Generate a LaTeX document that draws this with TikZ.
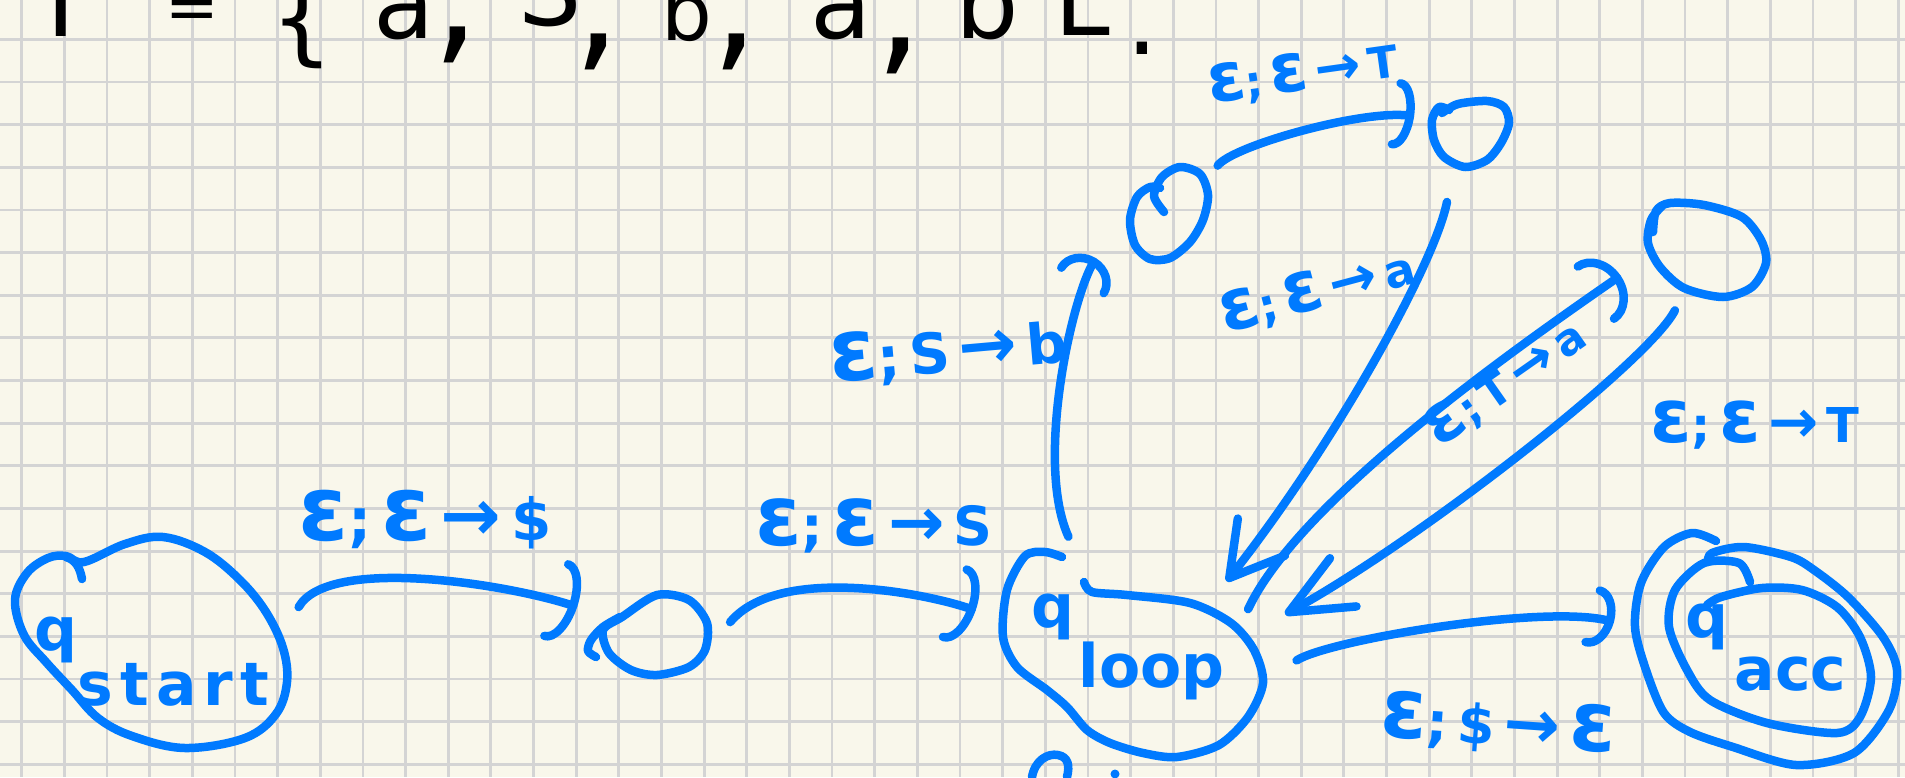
\documentclass[tikz,border=0pt]{standalone}
\usepackage{fontspec}
\usepackage{graphicx}
\setmainfont{DejaVu Sans}
\usetikzlibrary{arrows.meta,shapes.geometric}
\definecolor{pen}{RGB}{0,122,255}
\definecolor{paper}{RGB}{249,247,235}
\definecolor{gridc}{RGB}{212,212,212}
\newcommand\ep{\scalebox{1.55}{ε}}
\newcommand\arw{\scalebox{1.25}{→}}
\newcommand\stlabel[4]{\makebox[0pt]{\smash{\raisebox{#3}{#1\raisebox{#4}{#2}}}}}
\tikzset{
  ink/.style={draw=pen, line width=8.5pt, line cap=round, line join=round},
  gridline/.style={draw=gridc, line width=2.8pt},
  state/.style={ellipse, draw=none, inner sep=0pt, outer sep=0pt, text=pen, font=\fontsize{60}{60}\selectfont\bfseries},
  arcb/.style 2 args={-{Arc Barb[length=#1,width=#2,round]}},
  barb/.style 2 args={-{Straight Barb[length=#1,width=#2,round]}},
  lbl/.style={text=pen, inner sep=0pt, anchor=base, font=\fontsize{#1}{#1}\selectfont\bfseries},
  blk/.style={text=black, inner sep=0pt, anchor=base, font=\fontsize{#1}{#1}\selectfont},
}
\begin{document}
\begin{tikzpicture}[x=1pt,y=-1pt]
\useasboundingbox (0,0) rectangle (1905,777);
\fill[paper] (0,0) rectangle (1905,777);
\begin{scope}
\clip (0,0) rectangle (1905,777);
\foreach \i in {0,...,44} {\draw[gridline] ({21.7+42.65*\i},0) -- ({21.7+42.65*\i},777);}
\foreach \j in {0,...,17} {\draw[gridline] (0,{39.3+42.65*\j}) -- (1905,{39.3+42.65*\j});}

% top line (cut by the page edge, as in the reference)
\node[blk=100] (t1) at (74,36) {Γ};
\node[blk=64] (t2) at (192,29) {=};
\node[blk=100] (t3) at (302,52) {\{};
\node[blk=100] (t4) at (404,38) {a};
\node[blk=150] (t5) at (456,45) {,};
\node[blk=100] (t6) at (550,25) {S};
\node[blk=150] (t7) at (597,52) {,};
\node[blk=80] (t8) at (687,40) {b};
\node[blk=150] (t9) at (735,52) {,};
\node[blk=100] (t10) at (841,38) {a};
\node[blk=150] (t11) at (899,56) {,};
\node[blk=100] (t12) at (987,38) {b};
\node[blk=100] (t13) at (1082,35) {L};
\node[blk=100] (t14) at (1142,54) {.};

% hand-drawn state outlines
\draw[ink] plot[smooth cycle, tension=0.6] coordinates {(84,562) (125,544) (163,537) (205,552) (240,580) (266,612) (283,648) (287,682) (276,714) (245,738) (185,748) (132,736) (98,718) (72,690) (46,662) (24,635) (15,600) (27,573) (48,558) (66,556)};
\draw[ink] (66,557) .. controls (76,560) and (80,568) .. (82,579);
\draw[ink] plot[smooth cycle] coordinates {(622,617) (657,595) (689,600) (707,623) (705,650) (689,667) (657,675) (631,670) (609,653) (603,630)};
\draw[ink] plot[smooth] coordinates {(620,617) (603,627) (591,640) (588,651) (596,657)};
\draw[ink] plot[smooth] coordinates {(1164,212) (1154,196) (1162,177) (1180,167) (1200,174) (1208,195) (1203,220) (1190,242) (1170,258) (1150,259) (1135,245) (1130,220) (1137,197) (1150,187) (1160,188)};
\draw[ink] plot[smooth] coordinates {(1449,110) (1439,107) (1432,120) (1434,140) (1444,157) (1465,167) (1487,160) (1501,143) (1509,123) (1504,107) (1487,101) (1458,104) (1442,113)};
\draw[ink] plot[smooth] coordinates {(1653,232) (1656,211) (1670,203) (1704,205) (1742,217) (1761,240) (1766,263) (1752,287) (1723,297) (1684,288) (1660,267) (1648,243) (1651,220) (1662,206)};
\draw[ink] plot[smooth] coordinates {(1084,582) (1092,592) (1127,595) (1190,603) (1231,623) (1254,650) (1263,683) (1248,717) (1219,745) (1177,757) (1143,753) (1110,743) (1087,730) (1067,707) (1047,690) (1017,667) (1003,637) (1007,590) (1025,556) (1045,552) (1062,557)};
\draw[ink] plot[smooth] coordinates {(1716,541) (1692,533) (1664,547) (1641,583) (1635,627) (1646,670) (1664,713) (1690,732) (1733,747) (1796,765) (1854,753) (1889,710) (1897,670) (1883,637) (1848,597) (1814,570) (1791,557) (1744,547) (1712,553) (1708,562)};
\draw[ink] plot[smooth] coordinates {(1750,582) (1739,563) (1704,563) (1675,590) (1669,627) (1687,670) (1710,700) (1767,723) (1837,733) (1860,717) (1871,677) (1860,637) (1837,607) (1802,590) (1762,588) (1721,597) (1707,605)};
\draw[ink] (1032,777) .. controls (1035,760) and (1048,753) .. (1058,755) .. controls (1068,757) and (1070,765) .. (1067,777);
\fill[pen] (1115,774) circle (4.5pt);

% states
\node[state, minimum width=276pt, minimum height=210pt] (qs) at (152,642) {\stlabel{q}{\addfontfeature{LetterSpace=12}start}{-8pt}{-55pt}};
\node[state, minimum width=120pt, minimum height=84pt] (s1) at (650,635) {};
\node[state, minimum width=260pt, minimum height=210pt] (ql) at (1133,658) {\stlabel{q\hspace{4pt}}{loop\hspace{10pt}}{31pt}{-60pt}};
\node[state, minimum width=81pt, minimum height=93pt] (s2) at (1170,213) {};
\node[state, minimum width=83pt, minimum height=70pt] (s3) at (1472,133) {};
\node[state, minimum width=120pt, minimum height=98pt] (s4) at (1706,249) {};
\node[state, minimum width=262pt, minimum height=232pt] (qa) at (1766,649) {\stlabel{q\hspace{6pt}}{acc}{12pt}{-53pt}};

% transitions
\draw[ink, arcb={22pt}{84pt}, shorten <=21pt, shorten >=22pt] (qs.7) .. controls +(40,-70) and +(-90,-30) .. (s1.158);
\draw[ink, arcb={22pt}{80pt}, shorten <=42pt, shorten >=37pt] (s1.340) .. controls +(75,-90) and +(-85,-30) .. (ql.164);
\draw[ink, arcb={26pt}{58pt}, shorten <=28pt, shorten >=69pt] (ql.119) .. controls +(-45,-100) and +(-60,100) .. (s2.160);
\draw[ink, arcb={18pt}{70pt}, shorten <=25pt, shorten >=20pt] (s2.40) .. controls +(30,-40) and +(-70,-10) .. (s3.160);
\draw[ink, barb={52pt}{60pt}, shorten <=38pt, shorten >=3pt] (s3.241) .. controls +(-20,100) and +(110,-140) .. (ql.39);
\draw[ink, arcb={30pt}{72pt}, shorten >=32pt] (ql.23) .. controls +(52,-110) and +(-130,90) .. (s4.188);
\draw[ink, barb={62pt}{55pt}, shorten <=18pt, shorten >=31pt] (s4.243) .. controls +(-33,66) and +(162,-89) .. (ql.13);
\draw[ink, arcb={22pt}{62pt}, shorten <=45pt, shorten >=24pt] (ql.348) .. controls +(70,-45) and +(-90,-25) .. (qa.171);

% transition labels
\node[lbl=58] (l1) at (425,540) {\ep;\,\ep\,\arw\,\$};
\node[lbl=54] (l2) at (874,545) {\ep;\,\ep\,\arw\,S};
\node[lbl=56, rotate=5] (l3) at (950,372) {\ep;\,S\,\arw\,b};
\node[lbl=44, rotate=8] (l4) at (1305,90) {\ep;\,\ep\,\arw\,T};
\node[lbl=46, rotate=15] (l5) at (1322,308) {\ep;\,\ep\,\arw\,a};
\node[lbl=44, rotate=35] (l6) at (1515,396) {\ep;\,T\,\arw\,a};
\node[lbl=48] (l7) at (1755,442) {\ep;\,\ep\,\arw\,T};
\node[lbl=54, rotate=-4] (l8) at (1497,745) {\ep;\,\$\,\arw\,\ep};
\end{scope}
\end{tikzpicture}
\end{document}
